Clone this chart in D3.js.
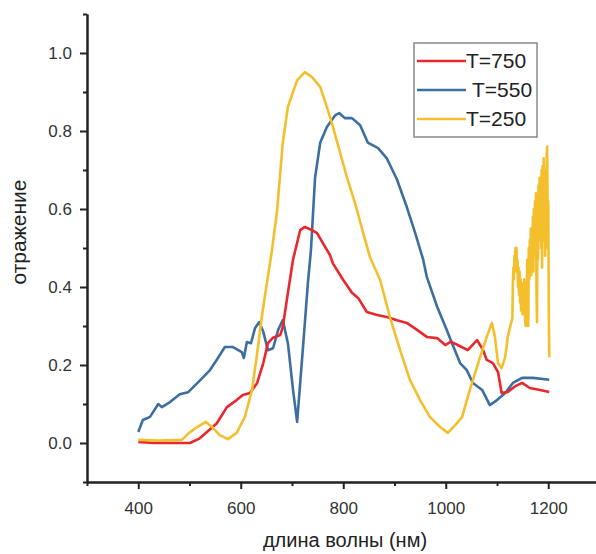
<!DOCTYPE html>
<html>
<head>
<meta charset="utf-8">
<script src="https://cdn.jsdelivr.net/npm/d3@7"></script>
<style>
  body { margin: 0; background: #fff; }
  text { font-family: "Liberation Sans", Arial, sans-serif; }
</style>
</head>
<body>
<div id="chart"></div>
<script>
// series names for the legend
const seriesNames = ['T=750', 'T=550', 'T=250']
const seriesColors = ['#e8282d', '#3d6ea0', '#f4bf2c']

// [wavelength nm, reflectance]
const t750 = [
  [400, 0.003], [430, 0.0], [470, 0.0], [501, 0.0], [520, 0.012], [534, 0.028], [553, 0.05],
  [573, 0.092], [592, 0.11], [604, 0.123], [618, 0.128], [632, 0.154], [644, 0.205],
  [653, 0.256], [663, 0.27], [677, 0.277], [682, 0.297], [692, 0.385], [702, 0.47],
  [716, 0.546], [725, 0.554], [739, 0.546], [749, 0.538], [760, 0.513], [774, 0.482],
  [780, 0.46], [800, 0.418], [817, 0.385], [829, 0.372], [846, 0.336], [866, 0.328],
  [885, 0.323], [905, 0.315], [924, 0.308], [944, 0.29], [963, 0.272], [983, 0.269],
  [999, 0.251], [1010, 0.26], [1028, 0.248], [1043, 0.238], [1061, 0.264], [1073, 0.238],
  [1080, 0.213], [1092, 0.205], [1102, 0.182], [1109, 0.128], [1121, 0.131], [1135, 0.145],
  [1149, 0.154], [1164, 0.141], [1184, 0.136], [1202, 0.131]
]

const t550 = [
  [400, 0.028], [409, 0.059], [423, 0.067], [439, 0.1], [446, 0.092], [462, 0.105],
  [481, 0.125], [497, 0.13], [520, 0.16], [540, 0.187], [553, 0.213], [569, 0.246],
  [585, 0.246], [602, 0.233], [606, 0.218], [612, 0.259], [620, 0.256], [628, 0.295],
  [636, 0.31], [644, 0.285], [653, 0.238], [663, 0.243], [673, 0.29], [682, 0.315],
  [692, 0.256], [702, 0.136], [710, 0.054], [721, 0.238], [731, 0.41], [737, 0.495],
  [745, 0.68], [755, 0.77], [768, 0.81], [784, 0.84], [792, 0.846], [803, 0.833],
  [817, 0.833], [833, 0.815], [848, 0.77], [868, 0.756], [885, 0.73], [905, 0.675],
  [924, 0.605], [940, 0.54], [956, 0.47], [963, 0.426], [983, 0.35], [1002, 0.29],
  [1014, 0.25], [1028, 0.205], [1041, 0.187], [1053, 0.154], [1071, 0.136], [1086, 0.097],
  [1100, 0.11], [1116, 0.128], [1131, 0.154], [1149, 0.167], [1170, 0.167], [1202, 0.162]
]

const t250 = [
  [400, 0.008], [440, 0.006], [485, 0.008], [501, 0.028], [515, 0.041], [532, 0.054],
  [544, 0.041], [559, 0.02], [575, 0.01], [592, 0.026], [608, 0.067], [622, 0.136],
  [632, 0.23], [641, 0.323], [651, 0.41], [661, 0.495], [671, 0.597], [682, 0.77],
  [692, 0.862], [710, 0.93], [725, 0.951], [739, 0.938], [755, 0.913], [768, 0.862],
  [780, 0.81], [794, 0.744], [807, 0.682], [823, 0.615], [839, 0.538], [852, 0.477],
  [872, 0.418], [891, 0.323], [911, 0.238], [930, 0.162], [950, 0.11], [969, 0.067],
  [989, 0.041], [1004, 0.026], [1022, 0.051], [1032, 0.067], [1047, 0.136], [1067, 0.22],
  [1080, 0.272], [1090, 0.308], [1096, 0.272], [1102, 0.205], [1109, 0.192], [1116, 0.22],
  [1121, 0.272], [1126, 0.3], [1130, 0.32], [1131, 0.41], [1132, 0.45], [1133, 0.42],
  [1134, 0.48], [1135, 0.44], [1136, 0.5], [1137, 0.46], [1138, 0.5], [1139, 0.44],
  [1140, 0.47], [1141, 0.4], [1142, 0.45], [1143, 0.38], [1144, 0.44], [1145, 0.36],
  [1146, 0.42], [1147, 0.34], [1148, 0.41], [1149, 0.36], [1150, 0.33], [1151, 0.4],
  [1152, 0.35], [1153, 0.42], [1154, 0.36], [1155, 0.31], [1156, 0.3], [1157, 0.41],
  [1158, 0.36], [1159, 0.47], [1160, 0.38], [1161, 0.3], [1162, 0.5], [1163, 0.42],
  [1164, 0.52], [1165, 0.44], [1166, 0.55], [1167, 0.43], [1168, 0.54], [1169, 0.46],
  [1170, 0.58], [1171, 0.44], [1172, 0.6], [1173, 0.48], [1174, 0.62], [1175, 0.5],
  [1176, 0.64], [1177, 0.4], [1178, 0.31], [1179, 0.58], [1180, 0.47], [1181, 0.66],
  [1182, 0.52], [1183, 0.68], [1184, 0.55], [1185, 0.66], [1186, 0.5], [1187, 0.7],
  [1188, 0.45], [1189, 0.71], [1190, 0.56], [1191, 0.73], [1192, 0.52], [1193, 0.7],
  [1194, 0.48], [1195, 0.66], [1196, 0.56], [1197, 0.74], [1198, 0.76], [1199, 0.5],
  [1200, 0.62], [1201, 0.35], [1202, 0.22]
]

const xMajorTicks = [400, 600, 800, 1000, 1200]
const xMinorTicks = [300, 500, 700, 900, 1100, 1300]
const yMajorTicks = [0.0, 0.2, 0.4, 0.6, 0.8, 1.0]
const yMinorTicks = [-0.1, 0.1, 0.3, 0.5, 0.7, 0.9, 1.1]

const width = 596, height = 554

const svg = d3.select('#chart').append('svg')
  .attr('width', width)
  .attr('height', height)

// scales
const x = d3.scaleLinear().domain([300, 1300]).range([87, 599.5])
const y = d3.scaleLinear().domain([-0.1, 1.1]).range([482, 14])

// data lines
const line = d3.line().x(d => x(d[0])).y(d => y(d[1]))
const allSeries = [t550, t750, t250]
const colorOf = [seriesColors[1], seriesColors[0], seriesColors[2]]
allSeries.forEach((s, i) => {
  svg.append('path')
    .datum(s)
    .attr('fill', 'none')
    .attr('stroke', colorOf[i])
    .attr('stroke-width', 2.6)
    .attr('stroke-linejoin', 'round')
    .attr('d', line)
})

// axes
const axisColor = '#222'
function styleAxis(g) {
  g.select('.domain').attr('stroke', axisColor).attr('stroke-width', 2)
  g.selectAll('.tick line').attr('stroke', axisColor).attr('stroke-width', 2)
  g.selectAll('.tick text').attr('fill', '#333').style('font-size', '17px')
    .style('font-family', '"Liberation Sans", Arial, sans-serif')
}

svg.append('g')
  .attr('transform', `translate(0,${y(-0.1)})`)
  .call(d3.axisBottom(x).tickValues(xMinorTicks).tickSize(4).tickFormat('').tickSizeOuter(0))
  .call(styleAxis)

svg.append('g')
  .attr('transform', `translate(0,${y(-0.1)})`)
  .call(d3.axisBottom(x).tickValues(xMajorTicks).tickSize(7).tickPadding(13).tickFormat(d3.format('d')).tickSizeOuter(0))
  .call(styleAxis)

svg.append('g')
  .attr('transform', `translate(${x(300)},0)`)
  .call(d3.axisLeft(y).tickValues(yMinorTicks).tickSize(4).tickFormat('').tickSizeOuter(0))
  .call(styleAxis)

svg.append('g')
  .attr('transform', `translate(${x(300)},0)`)
  .call(d3.axisLeft(y).tickValues(yMajorTicks).tickSize(7).tickPadding(8).tickFormat(d3.format('.1f')).tickSizeOuter(0))
  .call(styleAxis)

// axis titles
svg.append('text')
  .attr('x', 345)
  .attr('y', 547)
  .attr('text-anchor', 'middle')
  .attr('fill', '#222')
  .style('font-size', '20px')
  .text('длина волны (нм)')

svg.append('text')
  .attr('transform', 'translate(26,232) rotate(-90)')
  .attr('text-anchor', 'middle')
  .attr('fill', '#222')
  .style('font-size', '21px')
  .text('отражение')

// legend
const legend = svg.append('g')
legend.append('rect')
  .attr('x', 414).attr('y', 43)
  .attr('width', 123).attr('height', 94)
  .attr('fill', '#fff')
  .attr('stroke', '#888')
  .attr('stroke-width', 1.5)

const legendY = [61, 90, 119]
const legendTextX = [466, 472, 466]
seriesNames.forEach((name, i) => {
  legend.append('line')
    .attr('x1', 417).attr('x2', 466)
    .attr('y1', legendY[i]).attr('y2', legendY[i])
    .attr('stroke', seriesColors[i])
    .attr('stroke-width', 2.6)
  legend.append('text')
    .attr('x', legendTextX[i])
    .attr('y', legendY[i] + 7)
    .attr('fill', '#222')
    .style('font-size', '21px')
    .text(name)
})
</script>
</body>
</html>
